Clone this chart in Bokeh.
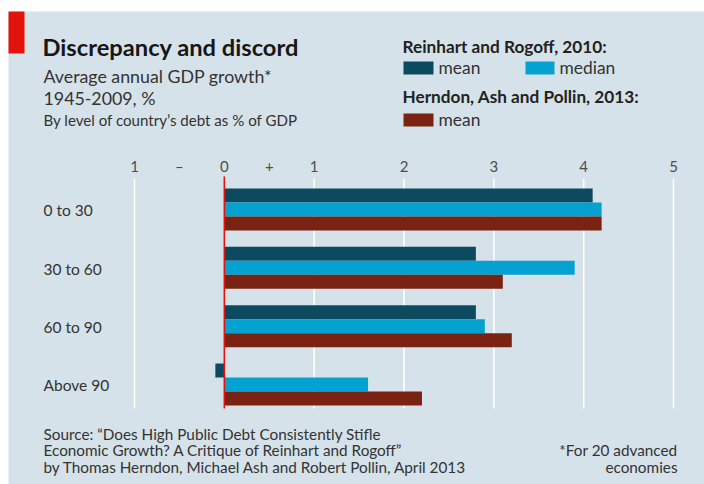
from bokeh.plotting import figure
from bokeh.models import Range1d, BoxAnnotation
from bokeh.core.properties import value
from bokeh.embed import file_html
from bokeh.resources import INLINE

# ---------------- data ----------------
categories = ["0 to 30", "30 to 60", "60 to 90", "Above 90"]
rr_mean = [4.1, 2.8, 2.8, -0.1]      # Reinhart and Rogoff, 2010: mean
rr_median = [4.2, 3.9, 2.9, 1.6]     # Reinhart and Rogoff, 2010: median
hap_mean = [4.2, 3.1, 3.2, 2.2]      # Herndon, Ash and Pollin, 2013: mean
tick_values = [-1, -0.5, 0, 0.5, 1, 2, 3, 4, 5]
tick_labels = ["1", "–", "0", "+", "1", "2", "3", "4", "5"]
grid_values = [-1, 1, 2, 3, 4, 5]

# ---------------- style ----------------
BG = "#d6e2e9"
DARK = "#0c4a60"
LIGHT = "#05a1d0"
BROWN = "#7a2312"
RED = "#e3120b"
FONT = "Lato"

W, H = 704, 484
X_M1, X_5 = 134.0, 673.0          # pixel positions of -1 and 5
PX_X = (X_5 - X_M1) / 6.0         # px per GDP-growth unit
Y_G0, PX_Y = 209.0, 58.33         # centre of first group, px per group


def X(px):
    return -1 + (px - X_M1) / PX_X


def Y(py):
    return (py - Y_G0) / PX_Y


p = figure(width=W, height=H, output_backend="svg", toolbar_location=None,
           x_axis_type=None, y_axis_type=None,
           x_range=Range1d(X(0), X(W)), y_range=Range1d(Y(H), Y(0)),
           min_border=0)
p.background_fill_color = "white"
p.border_fill_color = "white"
p.outline_line_color = None
p.grid.visible = False


def add_box(x0, x1, y0, y1, color):
    p.add_layout(BoxAnnotation(left=X(x0), right=X(x1), top=Y(y0), bottom=Y(y1),
                               fill_color=color, fill_alpha=1, line_color=None,
                               level="underlay"))


# panel background and red tab
add_box(8, W + 2, 11, H + 2, BG)
add_box(8, 24, 11, 53, RED)

ypos = list(range(len(categories)))
bh = 0.24

# tick labels + gridlines
p.text(x=tick_values, y=[Y(165.5)] * len(tick_values), text=tick_labels,
       text_font=value(FONT), text_font_size="15px", text_color="#4d4d4d",
       text_align="center", text_baseline="middle")
p.segment(x0=grid_values, x1=grid_values, y0=[Y(178)] * len(grid_values),
          y1=[Y(408)] * len(grid_values), line_color="white", line_width=1.6)

# bars
p.hbar(y=[y - bh for y in ypos], left=0, right=rr_mean, height=bh, fill_color=DARK, line_color=None)
p.hbar(y=ypos, left=0, right=rr_median, height=bh, fill_color=LIGHT, line_color=None)
p.hbar(y=[y + bh for y in ypos], left=0, right=hap_mean, height=bh, fill_color=BROWN, line_color=None)

# zero line
p.segment(x0=[0], x1=[0], y0=[Y(176)], y1=[Y(408)], line_color=RED, line_width=1.6)

# category labels
p.text(x=[X(43)] * len(categories), y=[y + 0.015 for y in ypos], text=categories,
       text_font=value(FONT), text_font_size="15.5px", text_color="#333333",
       text_align="left", text_baseline="middle")


def add_text(txt, x, y, size, bold=False, color="#333333", align="left"):
    p.text(x=[X(x)], y=[Y(y)], text=[txt], text_font=value(FONT),
           text_font_size=f"{size}px", text_font_style="bold" if bold else "normal",
           text_color=color, text_align=align, text_baseline="middle")


# title block
add_text("Discrepancy and discord", 42, 46.5, 23.7, bold=True, color="#161616")
add_text("Average annual GDP growth*", 43, 75.5, 17.8)
add_text("1945-2009, %", 43, 97, 17.8)
add_text("By level of country’s debt as % of GDP", 43, 119.5, 15.1)

# legend
add_text("Reinhart and Rogoff, 2010:", 402, 45.5, 17.2, bold=True, color="#222222")
add_box(403, 433, 61, 74, DARK)
add_text("mean", 438, 67, 17.4)
add_box(525, 554, 61, 74, LIGHT)
add_text("median", 559, 67, 17.4)
add_text("Herndon, Ash and Pollin, 2013:", 402, 95.5, 17.2, bold=True, color="#222222")
add_box(403, 433, 113, 126, BROWN)
add_text("mean", 438, 118.5, 17.4)

# source / footnote
add_text("Source: “Does High Public Debt Consistently Stifle", 43, 433, 15.3)
add_text("Economic Growth? A Critique of Reinhart and Rogoff”", 43, 449.5, 15.3)
add_text("by Thomas Herndon, Michael Ash and Robert Pollin, April 2013", 43, 466, 15.3)
add_text("*For 20 advanced", 677, 449.5, 15.3, align="right")
add_text("economies", 677, 466, 15.3, align="right")

open("out.html", "w").write(file_html(p, INLINE))
